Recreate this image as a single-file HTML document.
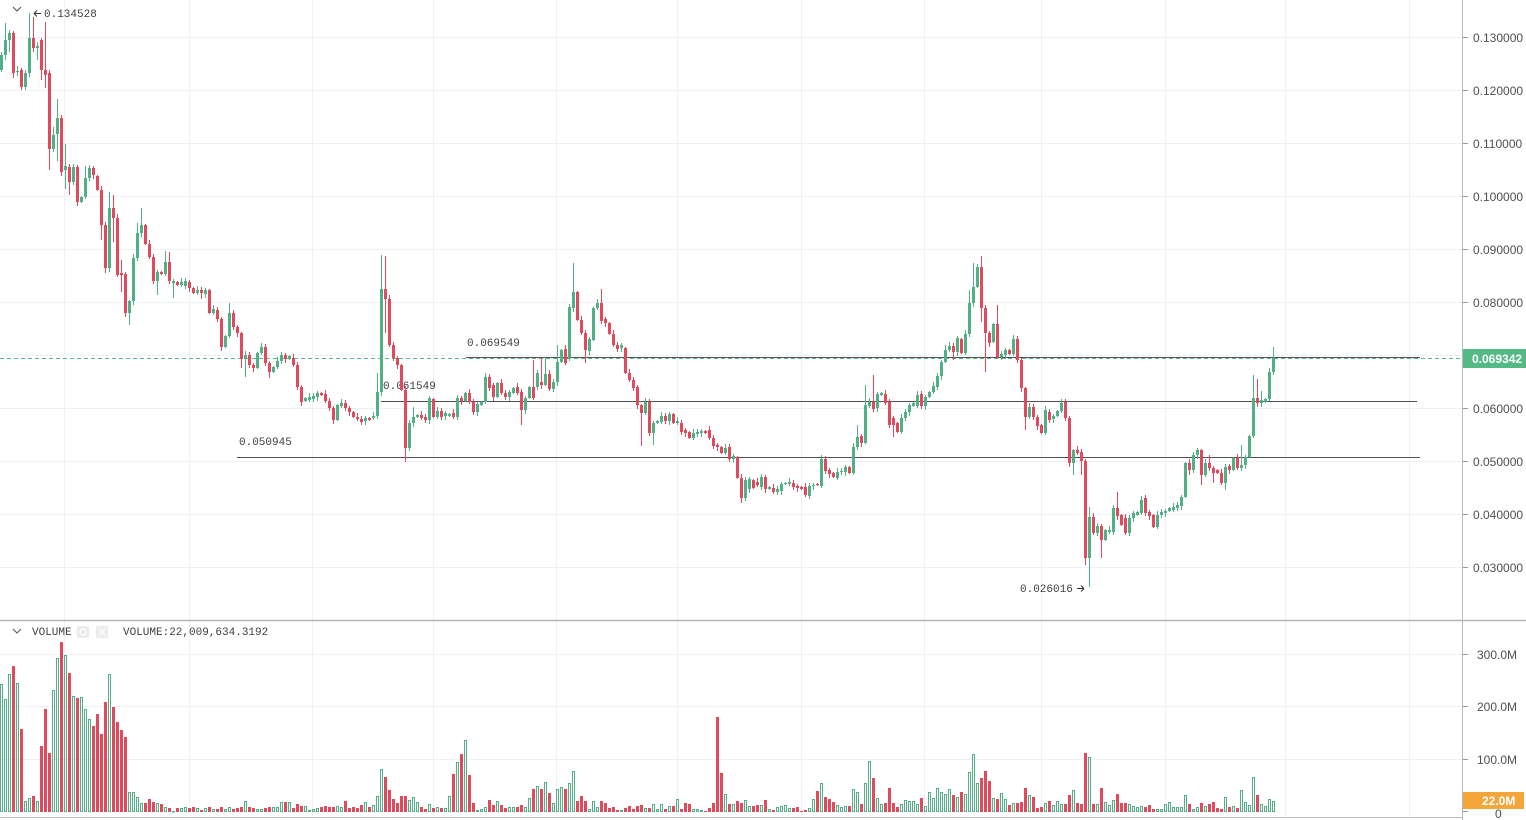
<!DOCTYPE html>
<html><head><meta charset="utf-8">
<style>
html,body{margin:0;padding:0;background:#fff;overflow:hidden;}
svg{display:block;}
.ax{font-family:"Liberation Sans",sans-serif;font-size:12px;fill:#4f4f4f;}
.mono{font-family:"Liberation Mono","DejaVu Sans Mono",monospace;font-size:11px;fill:#3f3f3f;}
</style></head><body>
<svg id="s" width="1526" height="820" xmlns="http://www.w3.org/2000/svg">
<rect x="0" y="0" width="1526" height="820" fill="#fff"/>
<g stroke="#eef1f5" stroke-width="1">
<line x1="0" y1="37.5" x2="1462" y2="37.5"/>
<line x1="0" y1="90.5" x2="1462" y2="90.5"/>
<line x1="0" y1="143.5" x2="1462" y2="143.5"/>
<line x1="0" y1="196.5" x2="1462" y2="196.5"/>
<line x1="0" y1="249.5" x2="1462" y2="249.5"/>
<line x1="0" y1="302.5" x2="1462" y2="302.5"/>
<line x1="0" y1="355.5" x2="1462" y2="355.5"/>
<line x1="0" y1="408.5" x2="1462" y2="408.5"/>
<line x1="0" y1="461.5" x2="1462" y2="461.5"/>
<line x1="0" y1="514.5" x2="1462" y2="514.5"/>
<line x1="0" y1="567.5" x2="1462" y2="567.5"/>
<line x1="0" y1="654.5" x2="1462" y2="654.5"/>
<line x1="0" y1="706.5" x2="1462" y2="706.5"/>
<line x1="0" y1="759.5" x2="1462" y2="759.5"/>
<line x1="64.5" y1="0" x2="64.5" y2="817"/>
<line x1="189.5" y1="0" x2="189.5" y2="817"/>
<line x1="312.5" y1="0" x2="312.5" y2="817"/>
<line x1="433.5" y1="0" x2="433.5" y2="817"/>
<line x1="556.5" y1="0" x2="556.5" y2="817"/>
<line x1="677.5" y1="0" x2="677.5" y2="817"/>
<line x1="801.5" y1="0" x2="801.5" y2="817"/>
<line x1="924.5" y1="0" x2="924.5" y2="817"/>
<line x1="1041.5" y1="0" x2="1041.5" y2="817"/>
<line x1="1165.5" y1="0" x2="1165.5" y2="817"/>
<line x1="1285.5" y1="0" x2="1285.5" y2="817"/>
<line x1="1409.5" y1="0" x2="1409.5" y2="817"/>
</g>
<g stroke="#505050" stroke-width="1">
<line x1="466" y1="357.5" x2="1420" y2="357.5"/>
<line x1="381" y1="401.5" x2="1417" y2="401.5"/>
<line x1="237" y1="457.5" x2="1420" y2="457.5"/>
</g>
<text class="mono" x="467" y="346">0.069549</text>
<text class="mono" x="383" y="389">0.061549</text>
<text class="mono" x="239" y="445">0.050945</text>
<line x1="0" y1="358.5" x2="1462" y2="358.5" stroke="#53b987" stroke-width="1" stroke-dasharray="4 3"/>
<g id="cand"></g>
<g id="vol"></g>
<polyline points="13,7 17,11 21,7" fill="none" stroke="#555" stroke-width="1"/>
<path d="M34 13.5 L41 13.5 M34 13.5 L37 10.5 M34 13.5 L37 16.5" fill="none" stroke="#333" stroke-width="1"/>
<text class="mono" x="44" y="17">0.134528</text>
<text class="mono" x="1020" y="592">0.026016</text>
<path d="M1077 588.5 L1084 588.5 M1084 588.5 L1081 585.5 M1084 588.5 L1081 591.5" fill="none" stroke="#333" stroke-width="1"/>
<line x1="0" y1="620.5" x2="1526" y2="620.5" stroke="#b5b5b5" stroke-width="1.4"/>
<line x1="0" y1="817.5" x2="1462" y2="817.5" stroke="#bdbdbd" stroke-width="1"/>
<line x1="1462.5" y1="0" x2="1462.5" y2="820" stroke="#b8b8b8" stroke-width="1"/>
<polyline points="13,629 17,633 21,629" fill="none" stroke="#555" stroke-width="1"/>
<text class="mono" x="32" y="635">VOLUME</text>
<rect x="77" y="626" width="12" height="12" fill="#ececec"/>
<circle cx="83" cy="632" r="3" fill="none" stroke="#fff" stroke-width="1.2"/>
<rect x="96" y="626" width="12" height="12" fill="#ececec"/>
<path d="M99 629 L105 635 M105 629 L99 635" stroke="#fff" stroke-width="1.3"/>
<text class="mono" x="123" y="635">VOLUME:22,009,634.3192</text>
<g stroke="#9a9a9a" stroke-width="1">
<line x1="1463" y1="37.5" x2="1468" y2="37.5"/>
<line x1="1463" y1="90.5" x2="1468" y2="90.5"/>
<line x1="1463" y1="143.5" x2="1468" y2="143.5"/>
<line x1="1463" y1="196.5" x2="1468" y2="196.5"/>
<line x1="1463" y1="249.5" x2="1468" y2="249.5"/>
<line x1="1463" y1="302.5" x2="1468" y2="302.5"/>
<line x1="1463" y1="408.5" x2="1468" y2="408.5"/>
<line x1="1463" y1="461.5" x2="1468" y2="461.5"/>
<line x1="1463" y1="514.5" x2="1468" y2="514.5"/>
<line x1="1463" y1="567.5" x2="1468" y2="567.5"/>
<line x1="1463" y1="654.5" x2="1468" y2="654.5"/>
<line x1="1463" y1="706.5" x2="1468" y2="706.5"/>
<line x1="1463" y1="759.5" x2="1468" y2="759.5"/>
<line x1="1463" y1="811.5" x2="1468" y2="811.5"/>
</g>
<text class="ax" x="1473" y="42">0.130000</text>
<text class="ax" x="1473" y="95">0.120000</text>
<text class="ax" x="1473" y="148">0.110000</text>
<text class="ax" x="1473" y="201">0.100000</text>
<text class="ax" x="1473" y="254">0.090000</text>
<text class="ax" x="1473" y="307">0.080000</text>
<text class="ax" x="1473" y="413">0.060000</text>
<text class="ax" x="1473" y="466">0.050000</text>
<text class="ax" x="1473" y="519">0.040000</text>
<text class="ax" x="1473" y="572">0.030000</text>
<rect x="1463" y="349" width="63" height="19" fill="#53b987"/>
<text x="1472" y="363" font-family="Liberation Sans, sans-serif" font-size="12" font-weight="bold" fill="#fff">0.069342</text>
<text class="ax" x="1477" y="659">300.0M</text>
<text class="ax" x="1477" y="711">200.0M</text>
<text class="ax" x="1477" y="764">100.0M</text>
<text class="ax" x="1495" y="818">0</text>
<rect x="1463" y="792" width="61" height="17" fill="#f5a63a"/>
<text x="1482" y="805" font-family="Liberation Sans, sans-serif" font-size="12" font-weight="bold" fill="#fff">22.0M</text>
</svg>
<script>
(function(){
var C="55,70,g,52,72|40,55,g,23,60|33,40,g,30,52|33,73,r,31,78|71,72,g,66,76|70,87,r,68,90|73,87,g,70,90|38,73,g,13,77|38,48,r,17,52|46,48,g,42,60|40,70,r,38,80|70,75,r,22,88|73,149,r,70,170|135,149,g,127,152|118,134,g,99,161|118,172,r,115,176|166,170,g,144,189|167,182,r,164,195|167,182,g|167,202,r|197,202,g|178,197,g,166|168,178,g|168,175,r|176,190,r|190,225,r,,240|225,268,r,,273|208,268,g,192|208,218,r,195,242|218,275,r|273,275,r,260,292|274,313,r|301,313,g,,325|258,301,g,,305|233,258,g,223|225,233,g,208|225,244,r|244,257,r|257,281,r|272,281,g,,295|272,274,r|262,274,g,251|262,281,r,252|281,283,g,,298|282,285,r|282,285,g|281,286,g|282,288,r|288,293,r|290,293,g|290,293,r,,299|290,294,g|290,313,r|309,313,g|310,319,r|319,347,r|336,347,g|313,336,g,303|313,327,r|327,333,r|333,359,r,,368|355,359,g,,377|355,365,r|365,368,r|353,368,g|347,353,g|347,363,r|363,372,r,,378|367,372,g|361,367,g|355,361,g|355,359,r|356,359,g|358,365,r|365,387,r|387,402,r|398,401,g|397,400,g|396,399,g|393,397,g|393,395,r|394,401,r|401,408,r|408,420,r|405,420,g|403,406,g|403,408,r|408,412,r|412,417,r|417,419,r|419,422,r|418,421,g|418,420,r|416,418,g|392,416,g,373|289,392,g,255|289,299,r,256,333|299,345,r|345,358,r|358,365,r|365,390,r|390,448,r,,462|423,448,g|417,423,g,407|415,417,g|415,418,r|417,420,r|398,420,g|399,417,r|411,417,g|411,417,r|413,416,g|414,416,g|413,417,r|398,417,g|398,401,r|393,401,g|393,402,r|402,412,r|404,412,g|402,405,g|377,402,g|377,388,r|385,397,r|383,397,g|383,393,r|393,397,r|392,397,g|388,393,g|387,393,r|392,410,r,,425|398,410,g|387,398,g|387,398,r,360|373,387,g|382,385,r,358|374,385,g,357|374,389,r|382,389,g|362,382,g,345|350,362,g|349,363,r|307,358,g|292,308,g,263|292,320,r|320,333,r|333,350,r,,363|339,351,g|308,340,g|303,308,g|303,321,r,289|319,323,r|323,334,r|334,345,r|345,349,r|345,348,g|348,373,r|373,380,r|380,388,r|387,405,r|405,413,r,,446|402,413,g|402,433,r|423,433,g,,445|421,423,g|416,422,g|416,421,r|414,421,g|414,423,r|421,423,g|423,432,r|430,433,r|432,438,r|433,438,g|432,434,g|431,433,g|431,433,r|430,438,r|438,446,r|445,447,r|447,453,r|448,453,g|447,459,r|456,459,g|457,478,r|478,498,r,,503|480,498,g|479,489,g|480,488,r|482,485,r|477,487,g|477,489,r|487,489,g|488,492,r|489,492,g|484,491,g|483,484,g|482,484,g|483,487,r|486,488,r|487,489,r|487,495,r|486,496,g|485,486,g|484,485,r|459,486,g|459,471,r|470,474,r|473,477,r|472,478,g|471,472,g|467,472,g|467,473,r|447,473,g|437,447,g,425|436,443,r|405,443,g,385|402,406,g|402,409,r,375|394,408,g|393,395,g|394,403,r|402,425,r|418,425,r,,437|423,432,r|418,432,g|412,418,g|405,412,g|403,406,g|395,406,g|394,406,r|397,406,g|392,397,g|386,392,g|376,387,g|362,376,g|350,362,g,345|346,350,g|346,352,r,,360|338,352,g|339,353,r|334,353,g|303,334,g,290|287,303,g,263|267,287,g,264|267,308,r,256,322|308,333,r,,372|333,343,r|324,342,g|324,357,r,305|354,357,g|350,355,g|350,354,r|339,354,g|339,360,r|360,388,r|388,417,r,,430|407,417,g|407,417,r|417,426,r|425,433,r|410,433,g|412,420,r|416,419,g|411,416,g|403,411,g|402,418,r|418,463,r|450,463,g,,475|450,453,r|452,461,r,,475|461,558,r,,565|517,558,g,507,587|517,533,r,513|526,533,g|526,540,r,,558|530,540,g|530,532,g|508,532,g|508,516,r,492|515,525,r|518,533,r|518,533,g|513,518,g|512,515,g|500,513,g|498,513,r|512,516,r|515,527,r|515,527,g|512,515,g|511,513,g|508,511,g|507,510,g|505,508,g|497,506,g|463,497,g|463,470,r,,475|455,470,g|450,455,g|450,475,r,,485|463,475,g|463,468,r,455|468,473,r,,483|470,473,r|473,483,r|467,483,g,,490|466,470,r|458,470,g|458,468,r|465,468,g,445|457,465,g|436,457,g|398,436,g,375|398,403,r,379,407|400,403,g,391|399,402,g|372,399,g|358,372,g,347";
var V=[684,699,674,666,683,729,801,798,796,801,746,709,753,690,658,642,655,673,696,698,697,709,719,726,714,734,702,674,707,722,730,737,792,792,797,803,803,799,802,803,804,807,808,811,808,808,807,808,807,808,810,808,807,809,809,807,809,807,809,808,807,801,807,808,809,809,808,807,807,807,802,802,802,808,804,
806,806,810,809,808,807,806,807,807,806,807,801,808,807,808,805,802,807,805,796,769,777,790,799,803,796,796,800,797,802,807,809,804,808,807,808,808,796,774,762,754,740,775,803,810,809,807,800,805,801,805,808,807,807,807,805,807,798,789,786,789,782,793,803,789,787,789,783,771,801,796,801,809,801,807,801,803,808,807,810,810,808,806,809,806,805,808,808,804,809,804,809,806,806,799,809,803,804,809,809,810,811,808,803,717,773,794,804,804,801,803,800,806,806,805,805,800,809,810,807,
806,805,808,808,807,811,810,808,799,791,783,797,799,802,805,807,806,806,789,792,804,783,761,778,798,804,803,788,803,807,804,800,801,801,804,798,806,792,798,788,792,794,789,795,797,792,794,772,754,783,778,771,781,798,799,793,799,805,803,803,802,788,795,797,808,807,803,801,805,801,804,804,795,790,803,804,753,757,804,804,788,802,805,800,794,803,803,804,806,807,806,807,805,809,809,809,804,802,807,807,807,795,804,809,807,803,806,804,802,808,809,797,807,806,808,790,802,805,777,795,804,806,799,801];
var G="#52b086",R="#e04a5c",NS="http://www.w3.org/2000/svg";
var cg=document.getElementById("cand"),vg=document.getElementById("vol");
var items=C.split("|"),cols=[];
function mk(p,a){var e=document.createElementNS(NS,"rect");for(var k in a)e.setAttribute(k,a[k]);p.appendChild(e);return e;}
for(var i=0;i<items.length;i++){
 var f=items[i].split(",");var t=+f[0],b=+f[1],c=f[2]=="g"?G:R;cols.push(f[2]);
 var wt=(f[3]!==undefined&&f[3]!=="")?+f[3]:t-(1+(i*7)%4);
 var wb=(f[4]!==undefined&&f[4]!=="")?+f[4]:b+(1+(i*5)%4);
 var x=4*i;
 mk(cg,{x:x+1,y:wt,width:1,height:Math.max(1,wb-wt),fill:c});
 mk(cg,{x:x,y:t,width:3,height:Math.max(1,b-t),fill:c});
}
var base=812;
for(var j=0;j<V.length;j++){
 var x2=4*j,top=V[j],gcol=(cols[j]||"g")=="g";
 if(gcol){mk(vg,{x:x2+0.5,y:top+0.5,width:2,height:Math.max(0.5,base-top-1),fill:"none",stroke:G,"stroke-width":1});}
 else{mk(vg,{x:x2,y:top,width:3,height:Math.max(1,base-top),fill:R});}
}
})();
</script>
</body></html>
